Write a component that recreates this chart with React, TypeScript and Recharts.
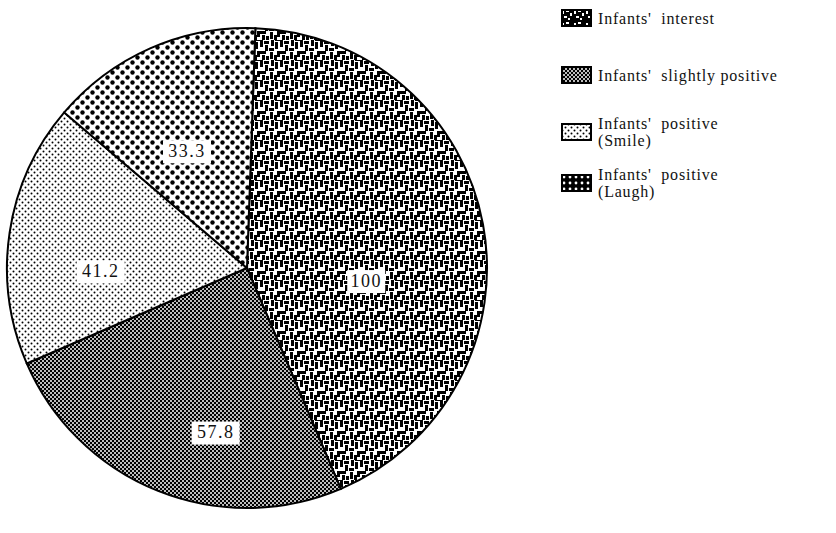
import React from 'react';
import { PieChart, Pie, Cell, Legend } from 'recharts';

// slice data, clockwise from 12 o'clock
const categories = [
  "Infants' interest",
  "Infants' slightly positive",
  "Infants' positive (Smile)",
  "Infants' positive (Laugh)",
];
const values = [100, 57.8, 41.2, 33.3];
const valueLabels = ['100', '57.8', '41.2', '33.3'];
const legendLines = [
  ["Infants'  interest"],
  ["Infants'  slightly positive"],
  ["Infants'  positive", '(Smile)'],
  ["Infants'  positive", '(Laugh)'],
];

const pieData = categories.map((name, i) => ({ name, value: values[i] }));

const PATTERNS = ['pat-interest', 'pat-slight', 'pat-smile', 'pat-laugh'];
const LEGEND_PATTERNS = ['leg-interest', 'pat-slight', 'pat-smile', 'leg-laugh'];
const LEGEND_CENTERS = [18, 75, 132, 183];

// nudges so labels sit where the printed ones do
const LABEL_TWEAK = [
  { r: 0.5, da: -17 },
  { r: 0.7, da: 11 },
  { r: 0.61, da: 10 },
  { r: 0.545, da: 3.5 },
];

const RADIAN = Math.PI / 180;
const FONT = '"Liberation Serif", "DejaVu Serif", serif';

const renderLabel = (props: any) => {
  const { cx, cy, midAngle, outerRadius, index } = props;
  const t = LABEL_TWEAK[index];
  const a = (midAngle + t.da) * RADIAN;
  const r = outerRadius * t.r;
  const x = cx + r * Math.cos(a);
  const y = cy - r * Math.sin(a);
  const txt = valueLabels[index];
  const w = txt.length * 10 + 8;
  const h = 23;
  return (
    <g key={`lbl-${index}`}>
      <rect x={x - w / 2} y={y - h / 2} width={w} height={h} fill="#fff" />
      <text
        x={x}
        y={y + 1}
        textAnchor="middle"
        dominantBaseline="middle"
        fontFamily={FONT}
        fontSize={18}
        letterSpacing={1.5}
        fill="#111"
      >
        {txt}
      </text>
    </g>
  );
};

const renderLegend = () => (
  <div style={{ fontFamily: FONT, fontSize: 16, letterSpacing: 0.8, color: '#111' }}>
    {legendLines.map((lines, i) => (
      <div
        key={categories[i]}
        style={{
          position: 'absolute',
          left: 0,
          top: LEGEND_CENTERS[i],
          transform: 'translateY(-50%)',
          display: 'flex',
          alignItems: 'center',
        }}
      >
        <svg width={31} height={18} style={{ display: 'block' }}>
          <rect x={1} y={1} width={29} height={16} fill={`url(#${LEGEND_PATTERNS[i]})`} stroke="#000" strokeWidth={2} />
        </svg>
        <div style={{ marginLeft: 6, lineHeight: '17px', whiteSpace: 'pre' }}>
          {lines.map((l) => (
            <div key={l}>{l}</div>
          ))}
        </div>
      </div>
    ))}
  </div>
);

export default function App() {
  return (
    <div style={{ position: 'absolute', left: 0, top: 0, background: '#fff' }}>
      <PieChart width={836} height={533} margin={{ top: 0, right: 0, bottom: 0, left: 0 }}>
        <defs>
          <pattern id="pat-interest" patternUnits="userSpaceOnUse" width={20} height={20}>
            <rect width={20} height={20} fill="#fff" />
            <g fill="#000">
              <rect x={0} y={0} width={3} height={7} />
              <rect x={4} y={1} width={5} height={3} />
              <rect x={11} y={0} width={3} height={6} />
              <rect x={15} y={2} width={3} height={7} />
              <rect x={5} y={5} width={3} height={6} />
              <rect x={9} y={8} width={5} height={3} />
              <rect x={0} y={11} width={6} height={3} />
              <rect x={17} y={11} width={3} height={6} />
              <rect x={10} y={12} width={3} height={7} />
              <rect x={2} y={15} width={3} height={5} />
              <rect x={14} y={15} width={3} height={5} />
              <rect x={6} y={16} width={3} height={4} />
              <rect x={15} y={0} width={5} height={1} />
            </g>
          </pattern>
          <pattern id="leg-interest" patternUnits="userSpaceOnUse" width={12} height={12}>
            <rect width={12} height={12} fill="#000" />
            <g fill="#fff">
              <rect x={1} y={2} width={2} height={3} />
              <rect x={5} y={1} width={3} height={2} />
              <rect x={9} y={4} width={2} height={3} />
              <rect x={3} y={7} width={3} height={2} />
              <rect x={7} y={9} width={2} height={2} />
            </g>
          </pattern>
          <pattern id="pat-slight" patternUnits="userSpaceOnUse" width={4} height={4}>
            <rect width={4} height={4} fill="#bdbdbd" />
            <rect x={0} y={0} width={2} height={2} fill="#000" />
            <rect x={2} y={2} width={2} height={2} fill="#000" />
          </pattern>
          <pattern id="pat-smile" patternUnits="userSpaceOnUse" width={6} height={6}>
            <rect width={6} height={6} fill="#fff" />
            <circle cx={1.5} cy={1.5} r={1} fill="#000" />
            <circle cx={4.5} cy={4.5} r={1} fill="#000" />
          </pattern>
          <pattern id="pat-laugh" patternUnits="userSpaceOnUse" width={10} height={10}>
            <rect width={10} height={10} fill="#fff" />
            <circle cx={2.5} cy={2.5} r={2.2} fill="#000" />
            <circle cx={7.5} cy={7.5} r={2.2} fill="#000" />
          </pattern>
          <pattern id="leg-laugh" patternUnits="userSpaceOnUse" width={6} height={6}>
            <rect width={6} height={6} fill="#000" />
            <circle cx={3} cy={3} r={1.4} fill="#fff" />
          </pattern>
        </defs>
        <Pie
          data={pieData}
          dataKey="value"
          nameKey="name"
          cx={247}
          cy={268}
          outerRadius={240}
          startAngle={88}
          endAngle={-272}
          stroke="#000"
          strokeWidth={2}
          label={renderLabel}
          labelLine={false}
          isAnimationActive={false}
        >
          {pieData.map((d, i) => (
            <Cell key={d.name} fill={`url(#${PATTERNS[i]})`} />
          ))}
        </Pie>
        <Legend
          content={renderLegend}
          wrapperStyle={{ position: 'absolute', left: 561, top: 0, width: 275, height: 220 }}
        />
      </PieChart>
    </div>
  );
}
